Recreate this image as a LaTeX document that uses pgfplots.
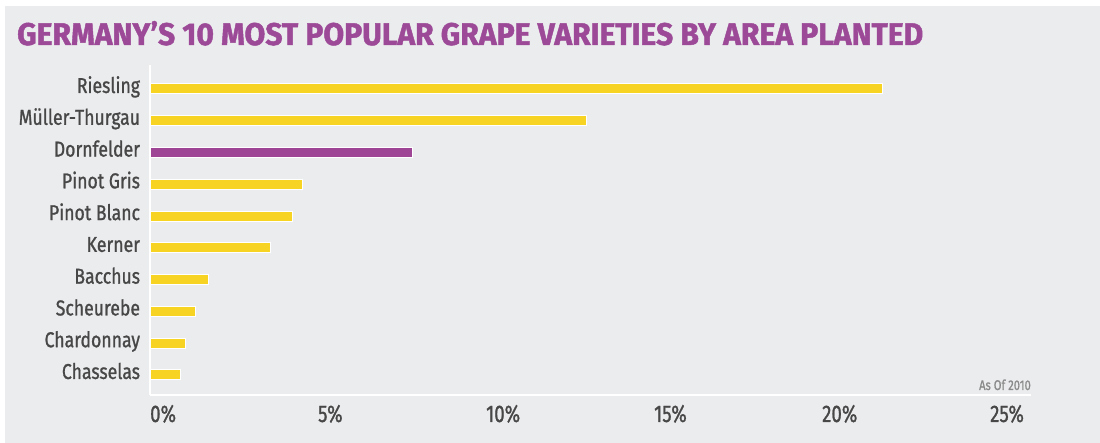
\documentclass[border=0pt]{standalone}
\usepackage{pgfplots}
\pgfplotsset{compat=1.18}
\usepackage{fontspec}
\setmainfont{Fira Sans}
\newfontfamily\labfont{Fira Sans}[FakeBold=1.2]
\newfontfamily\titlefont{Fira Sans}[BoldFeatures={FakeBold=1.5}]

\definecolor{panel}{HTML}{EBECEE}
\definecolor{grapeyellow}{HTML}{F7D424}
\definecolor{grapepurple}{HTML}{9E4596}
\definecolor{labelgray}{HTML}{474747}
\definecolor{notegray}{HTML}{8A8A8A}
\definecolor{titlepurple}{HTML}{9C4A97}

\begin{document}
\begin{tikzpicture}
% page and panel
\fill[white] (0pt,0pt) rectangle (1100pt,443pt);
\fill[panel] (5pt,0pt) rectangle (1100pt,437pt);
% title
\node[anchor=base west, inner sep=0pt, text=titlepurple] at (17pt,398pt)
  {\resizebox{906pt}{24pt}{\titlefont\bfseries GERMANY’S 10 MOST POPULAR GRAPE VARIETIES BY AREA PLANTED}};

\begin{axis}[
  at={(150pt,48pt)}, anchor=south west,
  scale only axis, width=881pt, height=330pt,
  xmin=0, xmax=26.22, ymin=0.37, ymax=10.755,
  axis x line*=bottom, axis y line*=left,
  axis line style={white, line width=1.5pt},
  major tick length=0pt,
  xbar, bar width=10pt, bar shift=0pt,
  clip=false,
  xtick={0,5,10,15,20,25},
  xticklabels={0\%,5\%,10\%,15\%,20\%,25\%},
  xticklabel style={font=\labfont\fontsize{24}{24}\selectfont, text=labelgray,
    anchor=base west, inner sep=0pt, xscale=0.78, yshift=-27pt},
  ytick={1,...,10},
  yticklabels={Chasselas,Chardonnay,Scheurebe,Bacchus,Kerner,Pinot Blanc,
    Pinot Gris,Dornfelder,Müller-Thurgau,Riesling},
  yticklabel style={font=\labfont\fontsize{21.5}{21.5}\selectfont, text=labelgray,
    anchor=base east, inner sep=0pt, xscale=0.82, xshift=-12pt, yshift=-4pt},
]
% share of Germany's vineyard area, %
\addplot[fill=grapeyellow, draw=white, line width=1pt] coordinates {
  (21.8,10) (13.0,9) (4.55,7) (4.25,6) (3.6,5)
  (1.75,4) (1.35,3) (1.05,2) (0.9,1)
};
\addplot[fill=grapepurple, draw=white, line width=1pt] coordinates {
  (7.8,8)
};
\node[anchor=base east, inner sep=0pt, text=notegray,
  font=\labfont\fontsize{14}{14}\selectfont, xscale=0.8]
  at (rel axis cs:1,0) [yshift=5pt] {As Of 2010};
\end{axis}
\end{tikzpicture}
\end{document}
